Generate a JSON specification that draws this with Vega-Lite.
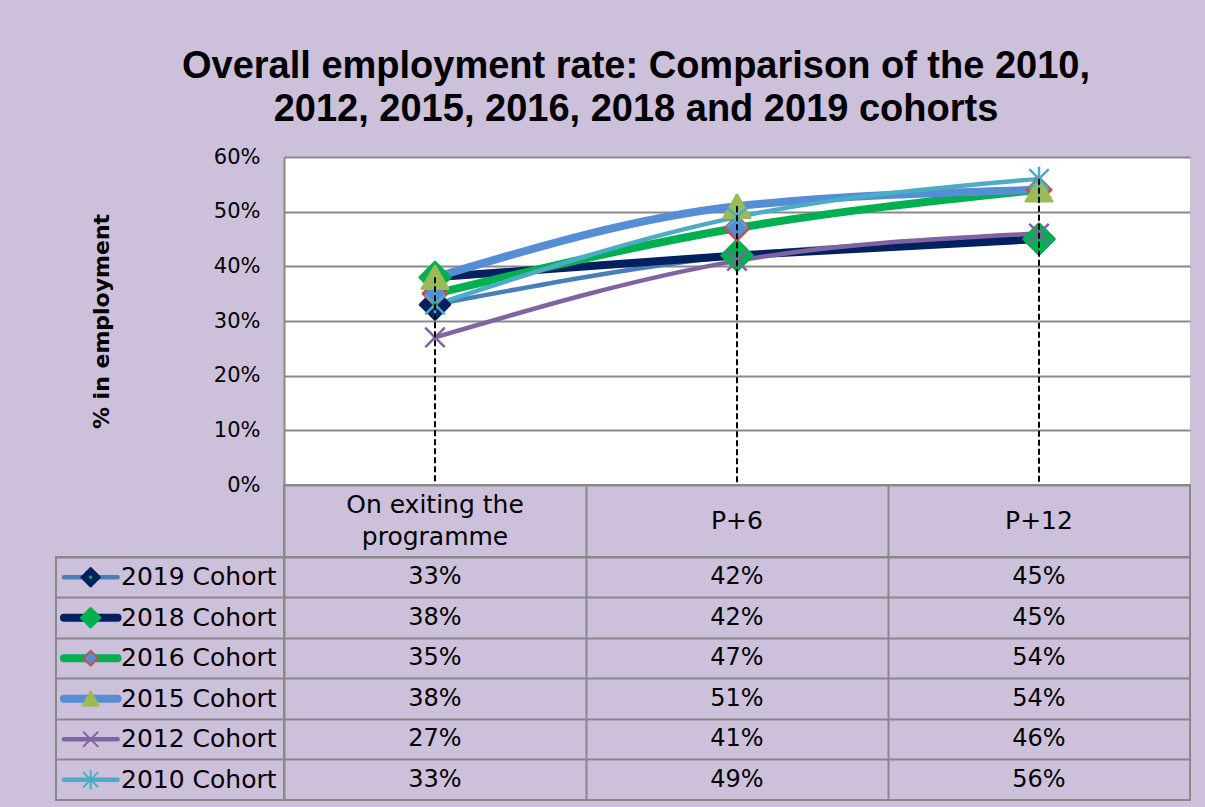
{
  "$schema": "https://vega.github.io/schema/vega-lite/v6.json",
  "background": "#CCC0DA",
  "padding": {"left": 55, "right": 16, "top": 48, "bottom": 7},
  "autosize": {"type": "pad"},
  "title": {
    "text": ["Overall employment rate: Comparison of the 2010,", "2012, 2015, 2016, 2018 and 2019 cohorts"],
    "font": "Liberation Sans",
    "fontSize": 38,
    "fontWeight": "bold",
    "lineHeight": 43,
    "color": "black",
    "anchor": "middle",
    "dx": 13,
    "offset": 17
  },
  "config": {
    "view": {"stroke": null},
    "legend": {"disable": true},
    "text": {"font": "DejaVu Sans", "fontSize": 24, "color": "black"}
  },
  "datasets": {
    "emp": [
      {"cohort": "2019 Cohort", "stage": "On exiting the programme", "value": 0.33},
      {"cohort": "2019 Cohort", "stage": "P+6", "value": 0.42},
      {"cohort": "2019 Cohort", "stage": "P+12", "value": 0.45},
      {"cohort": "2018 Cohort", "stage": "On exiting the programme", "value": 0.38},
      {"cohort": "2018 Cohort", "stage": "P+6", "value": 0.42},
      {"cohort": "2018 Cohort", "stage": "P+12", "value": 0.45},
      {"cohort": "2016 Cohort", "stage": "On exiting the programme", "value": 0.35},
      {"cohort": "2016 Cohort", "stage": "P+6", "value": 0.47},
      {"cohort": "2016 Cohort", "stage": "P+12", "value": 0.54},
      {"cohort": "2015 Cohort", "stage": "On exiting the programme", "value": 0.38},
      {"cohort": "2015 Cohort", "stage": "P+6", "value": 0.51},
      {"cohort": "2015 Cohort", "stage": "P+12", "value": 0.54},
      {"cohort": "2012 Cohort", "stage": "On exiting the programme", "value": 0.27},
      {"cohort": "2012 Cohort", "stage": "P+6", "value": 0.41},
      {"cohort": "2012 Cohort", "stage": "P+12", "value": 0.46},
      {"cohort": "2010 Cohort", "stage": "On exiting the programme", "value": 0.33},
      {"cohort": "2010 Cohort", "stage": "P+6", "value": 0.49},
      {"cohort": "2010 Cohort", "stage": "P+12", "value": 0.56}
    ],
    "stages": [
      {"stage": "On exiting the programme", "label": "On exiting the\nprogramme"},
      {"stage": "P+6", "label": "P+6"},
      {"stage": "P+12", "label": "P+12"}
    ],
    "cohorts": [
      {"cohort": "2019 Cohort"},
      {"cohort": "2018 Cohort"},
      {"cohort": "2016 Cohort"},
      {"cohort": "2015 Cohort"},
      {"cohort": "2012 Cohort"},
      {"cohort": "2010 Cohort"}
    ]
  },
  "columns": 2,
  "spacing": 0,
  "bounds": "flush",
  "align": "each",
  "resolve": {"scale": {"size": "independent"}},
  "concat": [
    {"width": 228, "height": 328, "data": {"values": []}, "mark": "point"},
    {
      "width": 906,
      "height": 328,
      "view": {"fill": "white", "stroke": null},
      "data": {"name": "emp"},
      "encoding": {
        "x": {"field": "stage", "type": "nominal", "sort": ["On exiting the programme", "P+6", "P+12"], "scale": {"type": "point", "padding": 0.5}, "axis": null},
        "y": {
          "field": "value", "type": "quantitative",
          "scale": {"domain": [0, 0.6], "nice": false, "zero": true},
          "axis": {
            "values": [0, 0.1, 0.2, 0.3, 0.4, 0.5, 0.6],
            "format": ".0%",
            "labelFont": "DejaVu Sans", "labelFontSize": 21, "labelColor": "black", "labelPadding": 24,
            "ticks": false,
            "domain": true, "domainColor": "#898989", "domainWidth": 2,
            "grid": true, "gridColor": "#898989", "gridWidth": 2, "gridOpacity": 1,
            "title": "% in employment",
            "titleFont": "DejaVu Sans", "titleFontSize": 22, "titleFontWeight": "bold", "titleColor": "black",
            "titlePadding": 100
          }
        }
      },
      "layer": [
        {
          "mark": {"type": "line", "interpolate": "monotone", "strokeCap": "round", "strokeJoin": "round"},
          "encoding": {
            "color": {"field": "cohort", "type": "nominal", "scale": {"domain": ["2019 Cohort", "2018 Cohort", "2016 Cohort", "2015 Cohort", "2012 Cohort", "2010 Cohort"], "range": ["#4A7EBB", "#002060", "#00B050", "#558ED5", "#8064A2", "#4BACC6"]}},
            "strokeWidth": {"field": "cohort", "type": "nominal", "scale": {"type": "ordinal", "domain": ["2019 Cohort", "2018 Cohort", "2016 Cohort", "2015 Cohort", "2012 Cohort", "2010 Cohort"], "range": [4.5, 8, 8, 8, 4.5, 4.5]}}
          }
        },
        {
          "mark": {"type": "point", "filled": true, "opacity": 1, "strokeWidth": 2.5, "strokeJoin": "round"},
          "encoding": {
            "shape": {"field": "cohort", "type": "nominal", "scale": {"domain": ["2019 Cohort", "2018 Cohort", "2016 Cohort", "2015 Cohort", "2012 Cohort", "2010 Cohort"], "range": ["diamond", "diamond", "diamond", "triangle-up", "M-1,-1L1,1M-1,1L1,-1", "M-1,-1L1,1M-1,1L1,-1M0,-1.25L0,1.25"]}},
            "fill": {"field": "cohort", "type": "nominal", "scale": {"domain": ["2019 Cohort", "2018 Cohort", "2016 Cohort", "2015 Cohort", "2012 Cohort", "2010 Cohort"], "range": ["#002060", "#00B050", "#558ED5", "#9BBB59", "#8064A2", "#4BACC6"]}},
            "stroke": {"field": "cohort", "type": "nominal", "scale": {"domain": ["2019 Cohort", "2018 Cohort", "2016 Cohort", "2015 Cohort", "2012 Cohort", "2010 Cohort"], "range": ["#002060", "#00B050", "#C0504D", "#9BBB59", "#8064A2", "#4BACC6"]}},
            "size": {"field": "cohort", "type": "nominal", "scale": {"type": "ordinal", "domain": ["2019 Cohort", "2018 Cohort", "2016 Cohort", "2015 Cohort", "2012 Cohort", "2010 Cohort"], "range": [900, 950, 600, 700, 380, 380]}}
          }
        },
        {
          "transform": [{"filter": "datum.cohort == '2019 Cohort'"}],
          "mark": {"type": "point", "filled": true, "opacity": 1, "shape": "circle", "size": 20, "color": "#00B050"}
        },
        {
          "transform": [{"aggregate": [{"op": "max", "field": "value", "as": "maxv"}], "groupby": ["stage"]}],
          "mark": {"type": "rule", "color": "black", "strokeWidth": 2, "strokeDash": [6, 3]},
          "encoding": {
            "y": {"field": "maxv", "type": "quantitative"},
            "y2": {"datum": 0}
          }
        }
      ]
    },
    {"width": 228, "height": 72, "data": {"values": []}, "mark": "point"},
    {
      "width": 906,
      "height": 72,
      "view": {"stroke": "#898989", "strokeWidth": 2},
      "data": {"name": "stages"},
      "encoding": {
        "x": {"field": "stage", "type": "nominal", "sort": ["On exiting the programme", "P+6", "P+12"], "scale": {"type": "band", "paddingInner": 0, "paddingOuter": 0},
          "axis": {"grid": true, "bandPosition": 0, "labels": false, "ticks": false, "domain": false, "title": null, "gridColor": "#898989", "gridWidth": 2, "gridOpacity": 1}},
        "text": {"field": "label", "type": "nominal"}
      },
      "layer": [
        {
          "transform": [{"filter": "datum.stage == 'On exiting the programme'"}],
          "mark": {"type": "text", "lineBreak": "\n", "lineHeight": 32, "align": "center", "baseline": "middle", "fontSize": 25, "dy": -16}
        },
        {
          "transform": [{"filter": "datum.stage != 'On exiting the programme'"}],
          "mark": {"type": "text", "align": "center", "baseline": "middle", "fontSize": 25}
        }
      ]
    },
    {
      "width": 228,
      "height": 243,
      "view": {"stroke": "#898989", "strokeWidth": 2},
      "data": {"name": "cohorts"},
      "encoding": {
        "y": {"field": "cohort", "type": "nominal", "sort": ["2019 Cohort", "2018 Cohort", "2016 Cohort", "2015 Cohort", "2012 Cohort", "2010 Cohort"], "scale": {"type": "band", "paddingInner": 0, "paddingOuter": 0},
          "axis": {"grid": true, "bandPosition": 0, "labels": false, "ticks": false, "domain": false, "title": null, "gridColor": "#898989", "gridWidth": 2, "gridOpacity": 1}}
      },
      "layer": [
        {
          "mark": {"type": "rule", "strokeCap": "round"},
          "encoding": {
            "x": {"datum": 0.035, "type": "quantitative", "scale": {"domain": [0, 1], "nice": false}, "axis": null},
            "x2": {"datum": 0.27},
            "color": {"field": "cohort", "type": "nominal", "scale": {"domain": ["2019 Cohort", "2018 Cohort", "2016 Cohort", "2015 Cohort", "2012 Cohort", "2010 Cohort"], "range": ["#4A7EBB", "#002060", "#00B050", "#558ED5", "#8064A2", "#4BACC6"]}},
            "strokeWidth": {"field": "cohort", "type": "nominal", "scale": {"type": "ordinal", "domain": ["2019 Cohort", "2018 Cohort", "2016 Cohort", "2015 Cohort", "2012 Cohort", "2010 Cohort"], "range": [4.5, 8, 8, 8, 4.5, 4.5]}}
          }
        },
        {
          "mark": {"type": "point", "filled": true, "opacity": 1, "strokeWidth": 2, "strokeJoin": "round"},
          "encoding": {
            "x": {"datum": 0.152, "type": "quantitative", "scale": {"domain": [0, 1], "nice": false}, "axis": null},
            "shape": {"field": "cohort", "type": "nominal", "scale": {"domain": ["2019 Cohort", "2018 Cohort", "2016 Cohort", "2015 Cohort", "2012 Cohort", "2010 Cohort"], "range": ["diamond", "diamond", "diamond", "triangle-up", "M-1,-1L1,1M-1,1L1,-1", "M-1,-1L1,1M-1,1L1,-1M0,-1.25L0,1.25"]}},
            "fill": {"field": "cohort", "type": "nominal", "scale": {"domain": ["2019 Cohort", "2018 Cohort", "2016 Cohort", "2015 Cohort", "2012 Cohort", "2010 Cohort"], "range": ["#002060", "#00B050", "#558ED5", "#9BBB59", "#8064A2", "#4BACC6"]}},
            "stroke": {"field": "cohort", "type": "nominal", "scale": {"domain": ["2019 Cohort", "2018 Cohort", "2016 Cohort", "2015 Cohort", "2012 Cohort", "2010 Cohort"], "range": ["#002060", "#00B050", "#C0504D", "#9BBB59", "#8064A2", "#4BACC6"]}},
            "size": {"field": "cohort", "type": "nominal", "scale": {"type": "ordinal", "domain": ["2019 Cohort", "2018 Cohort", "2016 Cohort", "2015 Cohort", "2012 Cohort", "2010 Cohort"], "range": [340, 380, 220, 270, 230, 230]}}
          }
        },
        {
          "transform": [{"filter": "datum.cohort == '2019 Cohort'"}],
          "mark": {"type": "point", "filled": true, "opacity": 1, "shape": "circle", "size": 12, "color": "#00B050"},
          "encoding": {
            "x": {"datum": 0.152, "type": "quantitative", "scale": {"domain": [0, 1], "nice": false}, "axis": null}
          }
        },
        {
          "mark": {"type": "text", "align": "left", "baseline": "middle", "fontSize": 25},
          "encoding": {
            "x": {"datum": 0.285, "type": "quantitative", "scale": {"domain": [0, 1], "nice": false}, "axis": null},
            "text": {"field": "cohort", "type": "nominal"}
          }
        }
      ]
    },
    {
      "width": 906,
      "height": 243,
      "view": {"stroke": "#898989", "strokeWidth": 2},
      "data": {"name": "emp"},
      "mark": {"type": "text", "align": "center", "baseline": "middle", "fontSize": 24},
      "encoding": {
        "x": {"field": "stage", "type": "nominal", "sort": ["On exiting the programme", "P+6", "P+12"], "scale": {"type": "band", "paddingInner": 0, "paddingOuter": 0},
          "axis": {"grid": true, "bandPosition": 0, "labels": false, "ticks": false, "domain": false, "title": null, "gridColor": "#898989", "gridWidth": 2, "gridOpacity": 1}},
        "y": {"field": "cohort", "type": "nominal", "sort": ["2019 Cohort", "2018 Cohort", "2016 Cohort", "2015 Cohort", "2012 Cohort", "2010 Cohort"], "scale": {"type": "band", "paddingInner": 0, "paddingOuter": 0},
          "axis": {"grid": true, "bandPosition": 0, "labels": false, "ticks": false, "domain": false, "title": null, "gridColor": "#898989", "gridWidth": 2, "gridOpacity": 1}},
        "text": {"field": "value", "type": "quantitative", "format": ".0%"}
      }
    }
  ]
}
